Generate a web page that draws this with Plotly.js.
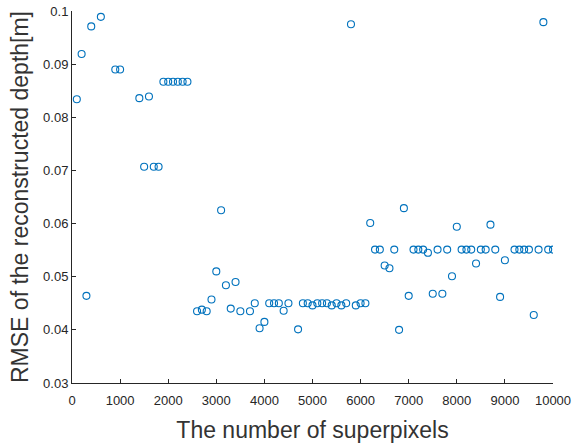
<!DOCTYPE html>
<html>
<head>
<meta charset="utf-8">
<script src="https://cdn.plot.ly/plotly-3.0.1.min.js"></script>
<style>html,body{margin:0;padding:0;background:#fff;}#chart{width:574px;height:443px;}</style>
</head>
<body>
<div id="chart"></div>
<script>
var superpixels = [100, 200, 300, 400, 600, 900, 1000, 1400, 1500, 1600, 1700, 1800,
  1900, 2000, 2100, 2200, 2300, 2400,
  2600, 2700, 2800, 2900, 3000, 3100, 3200, 3300, 3400, 3500, 3700, 3800, 3900,
  4000, 4100, 4200, 4300, 4400, 4500, 4700, 4800, 4900, 5000, 5100, 5200, 5300,
  5400, 5500, 5600, 5700, 5800, 5900, 6000, 6100,
  6200, 6300, 6400, 6500, 6600, 6700, 6800, 6900, 7000, 7100, 7200, 7300, 7400,
  7500, 7600, 7700, 7800, 7900, 8000, 8100, 8200, 8300, 8400, 8500, 8600, 8700,
  8800, 8900, 9000, 9200, 9300, 9400, 9500, 9600, 9700, 9800, 9900, 10000];
var rmse = [0.0834, 0.0919, 0.0464, 0.0971, 0.0989, 0.0890, 0.0890, 0.0836, 0.0707, 0.0839, 0.0707, 0.0707,
  0.0867, 0.0867, 0.0867, 0.0867, 0.0867, 0.0867,
  0.0435, 0.0438, 0.0435, 0.0457, 0.0510, 0.0625, 0.0484, 0.0440, 0.0490, 0.0435, 0.0435, 0.0450, 0.0403,
  0.0415, 0.0450, 0.0450, 0.0450, 0.0436, 0.0450, 0.0401, 0.0450, 0.0450, 0.0446, 0.0450, 0.0450, 0.0450,
  0.0446, 0.0450, 0.0446, 0.0450, 0.0975, 0.0446, 0.0450, 0.0450,
  0.0601, 0.0551, 0.0551, 0.0521, 0.0516, 0.0551, 0.0400, 0.0629, 0.0464, 0.0551, 0.0551, 0.0551, 0.0545,
  0.0468, 0.0551, 0.0468, 0.0551, 0.0501, 0.0594, 0.0551, 0.0551, 0.0551, 0.0525, 0.0551, 0.0551, 0.0598,
  0.0551, 0.0462, 0.0531, 0.0551, 0.0551, 0.0551, 0.0551, 0.0428, 0.0551, 0.0979, 0.0551, 0.0551];
var xTicks = [0, 1000, 2000, 3000, 4000, 5000, 6000, 7000, 8000, 9000, 10000];
var yTicks = [0.03, 0.04, 0.05, 0.06, 0.07, 0.08, 0.09, 0.1];
var yTickText = ['0.03', '0.04', '0.05', '0.06', '0.07', '0.08', '0.09', '0.1'];

var axisColor = '#262626';
var trace = {
  x: superpixels, y: rmse, type: 'scatter', mode: 'markers',
  marker: {symbol: 'circle-open', size: 7, color: '#0072BD', line: {width: 1.1, color: '#0072BD'}},
  hoverinfo: 'x+y'
};
var layout = {
  width: 574, height: 443,
  margin: {l: 72, r: 21, t: 11, b: 60},
  paper_bgcolor: '#ffffff', plot_bgcolor: '#ffffff',
  showlegend: false,
  font: {family: 'Liberation Sans, Arial, sans-serif', color: axisColor},
  xaxis: {
    range: [0, 10000], tickvals: xTicks, ticktext: xTicks.map(String),
    ticks: 'inside', ticklen: 4, tickcolor: axisColor, tickwidth: 1,
    showline: true, linecolor: axisColor, linewidth: 1,
    showgrid: false, zeroline: false, ticklabelstandoff: 5,
    tickfont: {size: 13, color: axisColor},
    title: {text: 'The number of superpixels', font: {size: 23, color: '#333333'}, standoff: 22}
  },
  yaxis: {
    range: [0.03, 0.1], tickvals: yTicks, ticktext: yTickText,
    ticks: 'inside', ticklen: 4, tickcolor: axisColor, tickwidth: 1,
    showline: true, linecolor: axisColor, linewidth: 1,
    showgrid: false, zeroline: false,
    tickfont: {size: 13, color: axisColor},
    title: {text: 'RMSE of the reconstructed depth[m]', font: {size: 23, color: '#333333'}, standoff: 8}
  }
};
Plotly.newPlot('chart', [trace], layout, {displayModeBar: false, staticPlot: true});
</script>
</body>
</html>
